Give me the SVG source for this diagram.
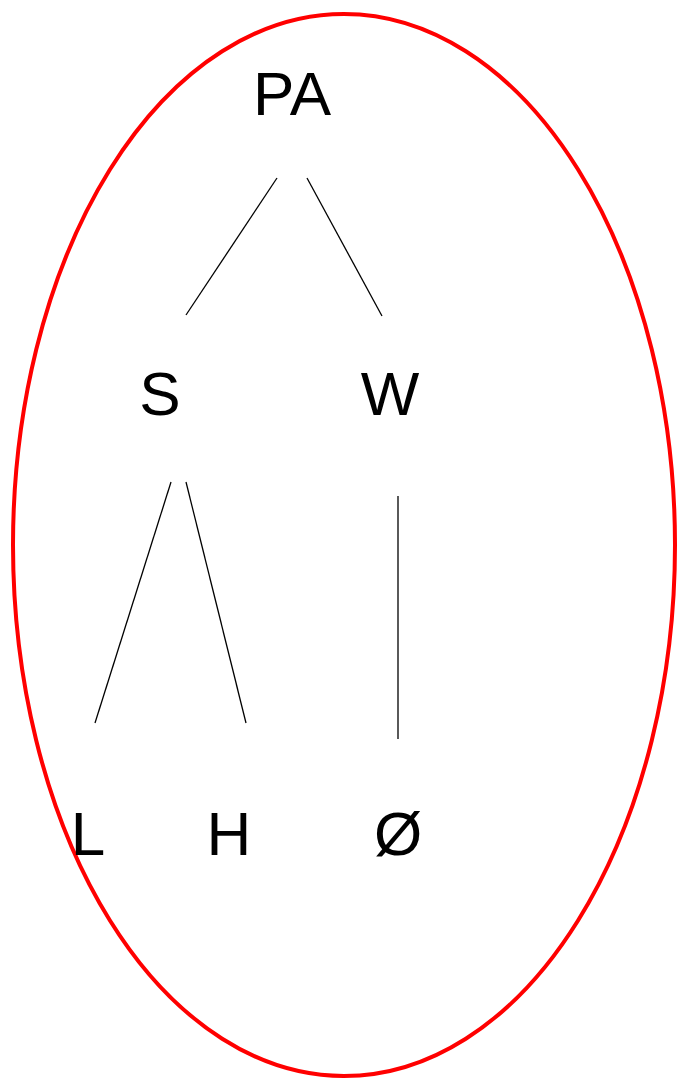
<svg xmlns="http://www.w3.org/2000/svg" width="677" height="1080" viewBox="0 0 677 1080">
<style>
.lbl{font-family:"Liberation Sans",Arial,sans-serif;font-size:62px;fill:#000;text-anchor:middle}
.edge{stroke:#000;stroke-width:1.3;fill:none}
</style>
<rect width="677" height="1080" fill="#fff"/>
<ellipse cx="344" cy="545" rx="331" ry="531" fill="none" stroke="#ff0000" stroke-width="4"/>
<g id="connectors">
<line class="edge" x1="277" y1="178" x2="186" y2="315"/>
<line class="edge" x1="307" y1="178" x2="382" y2="316"/>
<line class="edge" x1="171" y1="482" x2="95" y2="723"/>
<line class="edge" x1="186" y1="482" x2="246" y2="723"/>
<line class="edge" x1="398" y1="496" x2="398" y2="739"/>
</g>
<g id="PA"><text class="lbl" x="292" y="115">PA</text></g>
<g id="S"><text class="lbl" x="160" y="415">S</text></g>
<g id="W"><text class="lbl" x="390" y="415">W</text></g>
<g id="L"><text class="lbl" x="88" y="855">L</text></g>
<g id="H"><text class="lbl" x="229" y="855">H</text></g>
<g id="Null"><text class="lbl" x="398" y="855">Ø</text></g>
</svg>
